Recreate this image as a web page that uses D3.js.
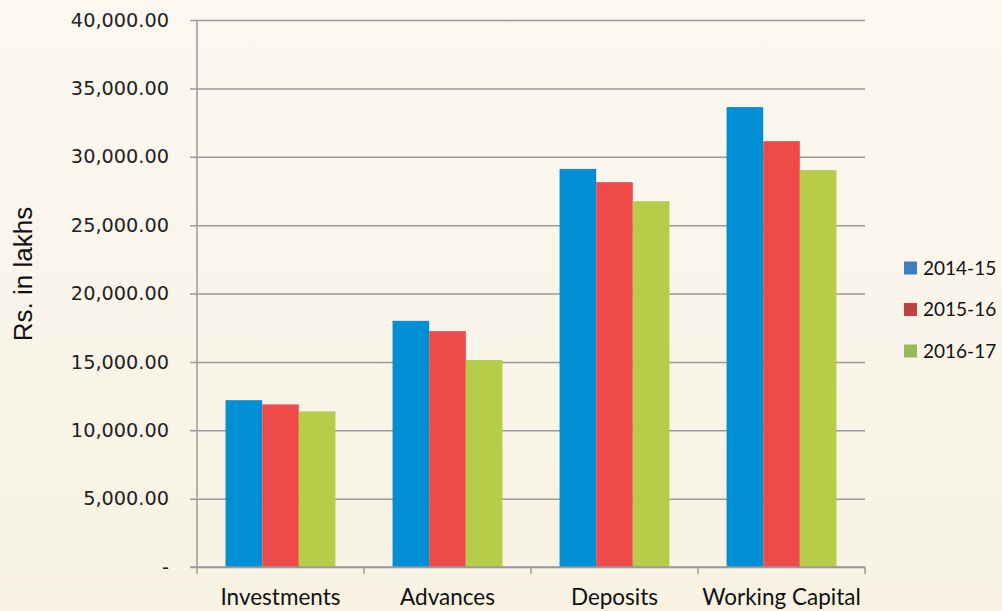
<!DOCTYPE html>
<html>
<head>
<meta charset="utf-8">
<script src="https://cdn.jsdelivr.net/npm/d3@7"></script>
<style>
  body { margin: 0; background: #f9f5ec; }
  svg { display: block; }
</style>
</head>
<body>
<svg id="mainsvg" width="1002" height="611"></svg>
<script>
const categories = ['Investments', 'Advances', 'Deposits', 'Working Capital'];
const seriesNames = ['2014-15', '2015-16', '2016-17'];
const v201415 = [12200, 18000, 29110, 33630];
const v201516 = [11890, 17250, 28140, 31140];
const v201617 = [11380, 15130, 26750, 29020];
const yTicks = [0, 5000, 10000, 15000, 20000, 25000, 30000, 35000, 40000];

const barColors = ['#008fd5', '#ef4a4a', '#b6cd49'];
const legendColors = ['#3f7fc1', '#c0413e', '#9aba57'];

const svg = d3.select('#mainsvg');
const margin = {top: 20, right: 137, bottom: 44, left: 197};
const width = +svg.attr('width');
const height = +svg.attr('height');
const innerWidth = width - margin.left - margin.right;
const innerHeight = height - margin.top - margin.bottom;

// background
const defs = svg.append('defs');
const grad = defs.append('linearGradient').attr('id', 'bg').attr('x1', 0).attr('y1', 0).attr('x2', 0).attr('y2', 1);
grad.append('stop').attr('offset', '0%').attr('stop-color', '#fbf8f2');
grad.append('stop').attr('offset', '100%').attr('stop-color', '#f7f2e2');
svg.append('rect').attr('width', width).attr('height', height).attr('fill', 'url(#bg)');

const data = categories.map((c, i) => ({
    cat: c,
    values: [v201415[i], v201516[i], v201617[i]]
}));

const g = svg.append('g').attr('transform', `translate(${margin.left}, ${margin.top})`);

const x0 = d3.scaleBand().domain(categories).range([0, innerWidth]).padding(0);
const x1 = d3.scaleBand().domain(seriesNames).range([0, x0.bandwidth()]).paddingInner(0).paddingOuter(0.78);
const y = d3.scaleLinear().domain([0, 40000]).range([innerHeight, 0]);

// gridlines + y axis
const yAxis = g.append('g')
    .call(d3.axisLeft(y).tickValues(yTicks).tickSize(-innerWidth - 7).tickPadding(28)
        .tickFormat(d => d === 0 ? '-' : d3.format(',.2f')(d)));
yAxis.select('.domain').remove();
yAxis.selectAll('.tick line').attr('x1', -7).attr('x2', innerWidth)
    .attr('stroke', '#9a9a9a').attr('stroke-width', 1.5);
yAxis.selectAll('.tick text')
    .style('font-family', 'DejaVu Sans, Verdana, sans-serif')
    .style('font-size', '19.3px').attr('fill', '#222');

g.append('line').attr('x1', 0).attr('x2', 0).attr('y1', 0).attr('y2', innerHeight)
    .attr('stroke', '#9a9a9a').attr('stroke-width', 1.5);

// bars
const groups = g.selectAll('.grp').data(data).join('g')
    .attr('class', 'grp')
    .attr('transform', d => `translate(${x0(d.cat)}, 0)`);
groups.selectAll('rect')
    .data(d => d.values.map((v, i) => ({s: seriesNames[i], v: v, i: i})))
    .join('rect')
    .attr('x', d => x1(d.s))
    .attr('width', x1.bandwidth())
    .attr('y', d => y(d.v))
    .attr('height', d => innerHeight - y(d.v))
    .attr('fill', d => barColors[d.i]);

// x axis
const xAxis = g.append('g').attr('transform', `translate(0, ${innerHeight})`)
    .call(d3.axisBottom(x0).tickSize(0).tickPadding(0));
xAxis.select('.domain').remove();
xAxis.selectAll('.tick text')
    .attr('y', 38).attr('dy', null)
    .style('font-family', 'Lato, "Open Sans", sans-serif')
    .style('font-size', '22.5px').attr('fill', '#111');
g.append('line').attr('x1', -7).attr('x2', innerWidth).attr('y1', innerHeight).attr('y2', innerHeight)
    .attr('stroke', '#9a9a9a').attr('stroke-width', 1.5);
const bounds = categories.map(c => x0(c)).concat([innerWidth]);
g.selectAll('.cattick').data(bounds).join('line')
    .attr('x1', d => d).attr('x2', d => d)
    .attr('y1', innerHeight).attr('y2', innerHeight + 7)
    .attr('stroke', '#9a9a9a').attr('stroke-width', 1.5);

// y title
svg.append('text')
    .attr('transform', 'rotate(-90)')
    .attr('x', -274).attr('y', 32)
    .style('text-anchor', 'middle')
    .style('font-family', '"Liberation Sans", Arial, sans-serif')
    .style('font-size', '26px').attr('fill', '#111')
    .text('Rs. in lakhs');

// legend
const legend = svg.append('g').attr('transform', 'translate(904, 268)');
const items = legend.selectAll('g').data(seriesNames).join('g')
    .attr('transform', (d, i) => `translate(0, ${i * 41.5})`);
items.append('rect').attr('x', 0).attr('y', -6.5).attr('width', 13).attr('height', 13)
    .attr('fill', (d, i) => legendColors[i]);
items.append('text').attr('x', 19).attr('y', 0).attr('dy', '0.35em')
    .style('font-family', 'Lato, "Open Sans", sans-serif')
    .style('font-size', '19px').attr('fill', '#111')
    .text(d => d);
</script>
</body>
</html>
